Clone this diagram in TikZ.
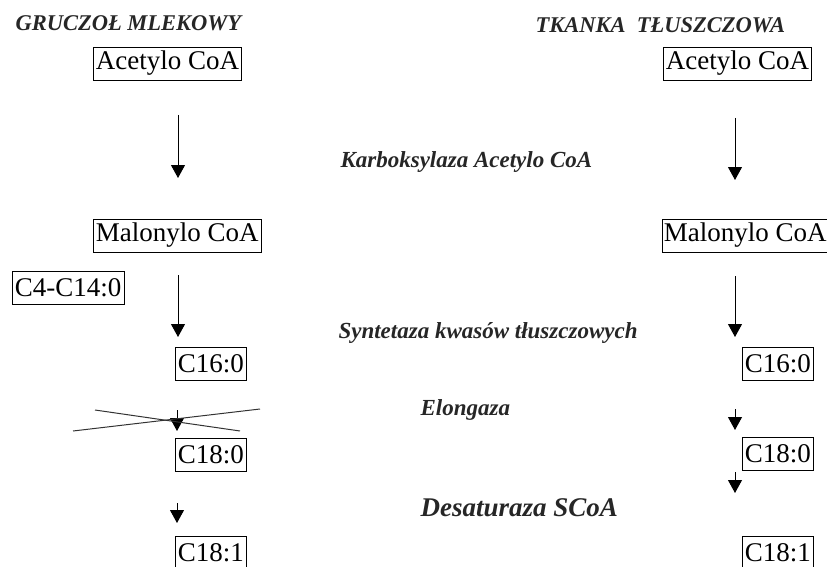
\documentclass[tikz,border=0pt]{standalone}
\usepackage{fontspec}
\setmainfont{Liberation Serif}
\usetikzlibrary{arrows.meta}
\begin{document}
\begin{tikzpicture}[
    x=1pt, y=-1pt,
    box/.style={draw=black, line width=0.8pt, anchor=west, inner xsep=2.5pt,
                minimum height=33pt, font=\fontsize{27}{30}\selectfont},
    tissue/.style={anchor=west, font=\fontsize{22.5}{25}\selectfont\bfseries\itshape, text=black!85},
    enzyme/.style={anchor=west, font=\fontsize{23}{26}\selectfont\bfseries\itshape, text=black!85},
    flow/.style={draw=black, line width=1pt, -{Triangle[width=14pt,length=13pt]}},
    cross/.style={draw=black!80, line width=1pt},
  ]
  \useasboundingbox (0,0) rectangle (827,567);
  % tissue headings
  \node[tissue] (hL) at (12,23) {GRUCZOŁ MLEKOWY};
  \node[tissue] (hR) at (532,25) {TKANKA \ TŁUSZCZOWA};
  % mammary gland column
  \node[box] (acL)  at (93,63.5)  {Acetylo CoA\hspace{14pt}};
  \node[box] (maL)  at (93,235.5) {Malonylo CoA};
  \node[box] (c4)   at (12,287.5) {C4-C14:0};
  \node[box] (c16L) at (175,364)  {C16:0};
  \node[box] (c18L) at (175,454.5) {C18:0};
  \node[box] (c81L) at (175,553)  {C18:1};
  % adipose tissue column
  \node[box] (acR)  at (663,63.5)  {Acetylo CoA};
  \node[box, inner xsep=1.5pt] (maR) at (662,235.5) {Malonylo CoA};
  \node[box] (c16R) at (742,364)   {C16:0};
  \node[box] (c18R) at (742,453.5) {C18:0};
  \node[box] (c81R) at (742,553)   {C18:1};
  % enzymes
  \node[enzyme] (e1) at (337,162) {Karboksylaza Acetylo CoA};
  \node[enzyme] (e2) at (335,333) {Syntetaza kwasów tłuszczowych};
  \node[enzyme] (e3) at (417,410) {Elongaza};
  \node[enzyme, font=\fontsize{27}{30}\selectfont\bfseries\itshape] (e4) at (417,508) {Desaturaza SCoA};
  % arrow ends
  \coordinate (aL1) at (178,115); \coordinate (bL1) at (178,178);
  \coordinate (aL2) at (178,275); \coordinate (bL2) at (178,337);
  \coordinate (aL3) at (177,410); \coordinate (bL3) at (177,431);
  \coordinate (aL4) at (177,503); \coordinate (bL4) at (177,523);
  \coordinate (aR1) at (735,118); \coordinate (bR1) at (735,180);
  \coordinate (aR2) at (735,276); \coordinate (bR2) at (735,337);
  \coordinate (aR3) at (735,409); \coordinate (bR3) at (735,430);
  \coordinate (aR4) at (735,472); \coordinate (bR4) at (735,493);
  \draw[flow] (aL1) -- (bL1);
  \draw[flow] (aL2) -- (bL2);
  \draw[flow] (aL3) -- (bL3);
  \draw[flow] (aL4) -- (bL4);
  \draw[flow] (aR1) -- (bR1);
  \draw[flow] (aR2) -- (bR2);
  \draw[flow] (aR3) -- (bR3);
  \draw[flow] (aR4) -- (bR4);
  % elongation blocked in the gland
  \draw[cross] (73,431) -- (260,409);
  \draw[cross] (95,410) -- (240,431);
\end{tikzpicture}
\end{document}
